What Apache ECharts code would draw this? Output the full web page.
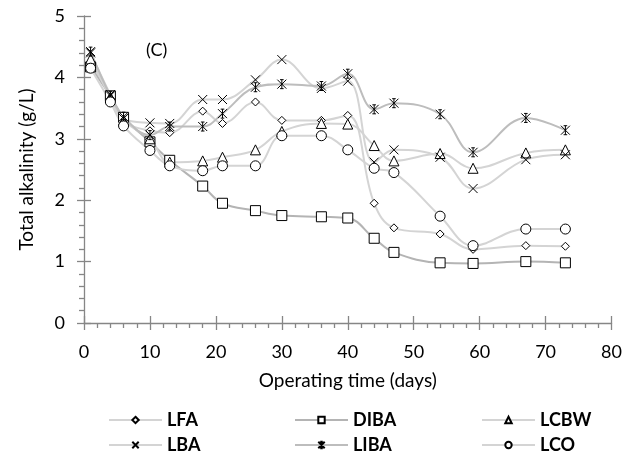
<!DOCTYPE html>
<html>
<head>
<meta charset="utf-8">
<script src="https://cdn.jsdelivr.net/npm/echarts@6/dist/echarts.min.js"></script>
<style>
  html, body { margin: 0; padding: 0; background: #fff; }
  #chart { width: 625px; height: 459px; }
</style>
</head>
<body>
<div id="chart"></div>
<script>
// Operating days at which alkalinity was sampled
const days = [1, 4, 6, 10, 13, 18, 21, 26, 30, 36, 40, 44, 47, 54, 59, 67, 73];

// Total alkalinity (g/L) per reactor
const LFA  = [4.25, 3.70, 3.30, 3.13, 3.10, 3.45, 3.25, 3.60, 3.30, 3.30, 3.38, 1.95, 1.55, 1.45, 1.20, 1.26, 1.25];
const DIBA = [4.17, 3.70, 3.35, 2.95, 2.65, 2.23, 1.95, 1.83, 1.75, 1.73, 1.71, 1.38, 1.15, 0.98, 0.97, 1.00, 0.98];
const LCBW = [4.30, 3.68, 3.30, 3.00, 2.62, 2.64, 2.70, 2.82, 3.12, 3.25, 3.24, 2.89, 2.64, 2.76, 2.52, 2.77, 2.82];
const LBA  = [4.40, 3.72, 3.33, 3.26, 3.25, 3.64, 3.64, 3.96, 4.29, 3.82, 3.94, 2.62, 2.82, 2.70, 2.19, 2.66, 2.74];
const LIBA = [4.42, 3.70, 3.36, 3.06, 3.20, 3.20, 3.41, 3.84, 3.89, 3.86, 4.06, 3.48, 3.58, 3.40, 2.78, 3.34, 3.14];
const LCO  = [4.15, 3.60, 3.21, 2.81, 2.56, 2.48, 2.56, 2.56, 3.05, 3.05, 2.82, 2.52, 2.45, 1.74, 1.26, 1.53, 1.53];

const xTicks = [0, 10, 20, 30, 40, 50, 60, 70, 80];
const yTicks = [0, 1, 2, 3, 4, 5];

const FONT = 'Lato';
const AXIS_GRAY = '#868686';

const X_MARK = 'path://M0,0L10,10M10,0L0,10';
const STAR_MARK = 'path://M0,0L10,10M10,0L0,10M5,0L5,10M3,0L7,0M3,10L7,10';

const seriesDefs = [
  { name: 'LFA',  data: LFA,  symbol: 'diamond',  size: 8,  line: '#d4d4d4' },
  { name: 'DIBA', data: DIBA, symbol: 'rect',     size: 10, line: '#b4b4b4' },
  { name: 'LCBW', data: LCBW, symbol: 'triangle', size: 10, line: '#d4d4d4' },
  { name: 'LBA',  data: LBA,  symbol: X_MARK,     size: 9,  line: '#d4d4d4' },
  { name: 'LIBA', data: LIBA, symbol: STAR_MARK,  size: 9,  line: '#bdbdbd' },
  { name: 'LCO',  data: LCO,  symbol: 'circle',   size: 10, line: '#d4d4d4' }
];

const series = seriesDefs.map(d => ({
  name: d.name,
  type: 'line',
  xAxisIndex: 0,
  yAxisIndex: 0,
  smooth: 0.4,
  data: days.map((t, i) => [t, d.data[i]]),
  symbol: d.symbol,
  symbolSize: d.size,
  showAllSymbol: true,
  lineStyle: { color: d.line, width: 2 },
  itemStyle: { color: '#fff', borderColor: '#000', borderWidth: 1 },
  emphasis: { disabled: true }
}));

// Legend: 3 columns x 2 rows, one legend block per entry
const legendCols = [103, 289, 476];
const legendRows = [406, 431];
const legends = seriesDefs.map((d, i) => ({
  data: [d.name],
  left: legendCols[i % 3],
  top: legendRows[Math.floor(i / 3)],
  itemWidth: 53,
  itemHeight: 8,
  selectedMode: false,
  textStyle: { fontFamily: FONT, fontWeight: 'bold', fontSize: 18, color: '#000' }
}));

const xRange = { min: xTicks[0], max: xTicks[xTicks.length - 1], interval: xTicks[1] - xTicks[0] };
const yRange = { min: yTicks[0], max: yTicks[yTicks.length - 1], interval: yTicks[1] - yTicks[0] };

const option = {
  animation: false,
  backgroundColor: '#fff',
  grid: { left: 84, right: 12, top: 16, bottom: 136, containLabel: false },
  title: {
    text: '(C)',
    left: 141,
    top: 36,
    textStyle: { fontFamily: FONT, fontWeight: 'normal', fontSize: 18, color: '#000' }
  },
  legend: legends,
  xAxis: [
    {
      type: 'value', ...xRange,
      name: 'Operating time (days)',
      nameLocation: 'middle',
      nameGap: 48,
      nameTextStyle: { fontFamily: FONT, fontSize: 19, color: '#000' },
      axisLine: { lineStyle: { color: AXIS_GRAY, width: 1.3 } },
      axisTick: { show: true, length: 7, lineStyle: { color: AXIS_GRAY, width: 1.3 } },
      minorTick: { show: true, splitNumber: 5, length: 5, lineStyle: { color: AXIS_GRAY, width: 1.3 } },
      axisLabel: { fontFamily: FONT, fontSize: 18, color: '#000', margin: 20 },
      splitLine: { show: false }
    },
    {
      type: 'value', ...xRange, position: 'bottom',
      axisLine: { show: false },
      axisTick: { show: true, inside: true, length: 7, lineStyle: { color: AXIS_GRAY, width: 1.3 } },
      axisLabel: { show: false },
      splitLine: { show: false }
    }
  ],
  yAxis: [
    {
      type: 'value', ...yRange,
      name: 'Total alkalinity (g/L)',
      nameLocation: 'middle',
      nameGap: 48,
      nameTextStyle: { fontFamily: FONT, fontSize: 19, color: '#000' },
      axisLine: { show: true, lineStyle: { color: AXIS_GRAY, width: 1.3 } },
      axisTick: { show: true, length: 7, lineStyle: { color: AXIS_GRAY, width: 1.3 } },
      minorTick: { show: true, splitNumber: 5, length: 5, lineStyle: { color: AXIS_GRAY, width: 1.3 } },
      axisLabel: { fontFamily: FONT, fontSize: 18, color: '#000', margin: 19 },
      splitLine: { show: false }
    },
    {
      type: 'value', ...yRange, position: 'left',
      axisLine: { show: false },
      axisTick: { show: true, inside: true, length: 7, lineStyle: { color: AXIS_GRAY, width: 1.3 } },
      axisLabel: { show: false },
      splitLine: { show: false }
    }
  ],
  series: series
};

const chart = echarts.init(document.getElementById('chart'), null, { renderer: 'canvas' });
chart.setOption(option);
</script>
</body>
</html>
